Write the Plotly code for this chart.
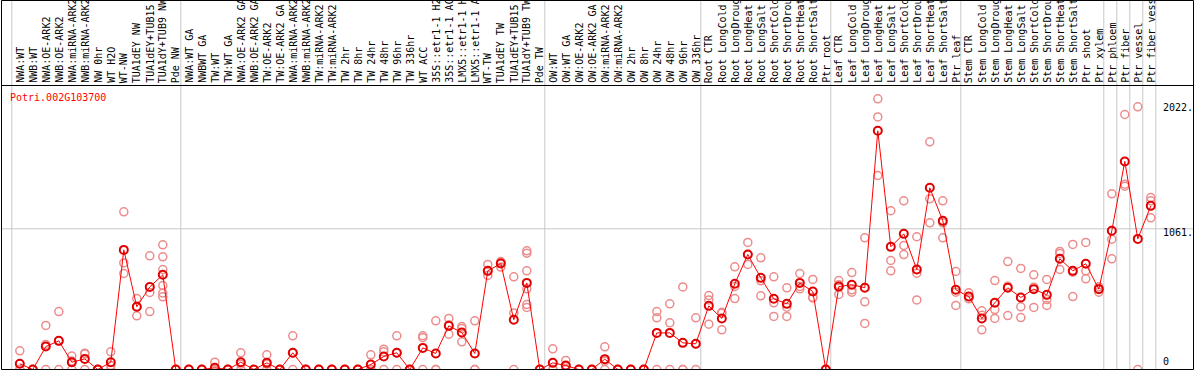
import plotly.graph_objects as go

title = "Potri.002G103700"

categories = [
    "NWA:WT", "NWB:WT", "NWA:OE-ARK2", "NWB:OE-ARK2", "NWA:miRNA-ARK2", "NWB:miRNA-ARK2",
    "NW 0hr", "WT H2O", "WT-NW", "TUA1dEY NW", "TUA1dEY+TUB15", "TUA1dY+TUB9 NW", "Pde NW",
    "NWA:WT GA", "NWBWT GA", "TW:WT", "TW:WT GA", "NWA:OE-ARK2 GA", "NWB:OE-ARK2 GA",
    "TW:OE-ARK2", "TW:OE-ARK2 GA", "NWA:miRNA-ARK2", "NWB:miRNA-ARK2", "TW:miRNA-ARK2",
    "TW:miRNA-ARK2", "TW 2hr", "TW 8hr", "TW 24hr", "TW 48hr", "TW 96hr", "TW 336hr",
    "WT ACC", "35S::etr1-1 H2", "35S::etr1-1 AC", "LMX5::etr1-1 H", "LMX5::etr1-1 A",
    "WT-TW", "TUA1dEY TW", "TUA1dEY+TUB15", "TUA1dY+TUB9 TW", "Pde TW",
    "OW:WT", "OW:WT GA", "OW:OE-ARK2", "OW:OE-ARK2 GA", "OW:miRNA-ARK2", "OW:miRNA-ARK2",
    "OW 2hr", "OW 8hr", "OW 24hr", "OW 48hr", "OW 96hr", "OW 336hr",
    "Root CTR", "Root LongCold", "Root LongDroug", "Root LongHeat", "Root LongSalt",
    "Root ShortCold", "Root ShortDrou", "Root ShortHeat", "Root ShortSalt", "Ptr root",
    "Leaf CTR", "Leaf LongCold", "Leaf LongDroug", "Leaf LongHeat", "Leaf LongSalt",
    "Leaf ShortCold", "Leaf ShortDrou", "Leaf ShortHeat", "Leaf ShortSalt", "Ptr leaf",
    "Stem CTR", "Stem LongCold", "Stem LongDroug", "Stem LongHeat", "Stem LongSalt",
    "Stem ShortCold", "Stem ShortDrou", "Stem ShortHeat", "Stem ShortSalt", "Ptr shoot",
    "Ptr xylem", "Ptr phloem", "Ptr fiber", "Ptr vessel", "Ptr fiber vess",
]

group_sizes = [13, 28, 12, 10, 10, 11, 1, 1, 1, 1]

means = [
    43, 0, 173, 216, 55, 80, 0, 55, 902, 473, 623, 714, 0,
    0, 0, 13, 0, 55, 0, 50, 0, 126, 0, 0, 0, 0, 0, 38, 98, 126, 0, 163, 121, 329, 279,
    121, 744, 799, 375, 653, 0,
    50, 30, 0, 0, 78, 0, 0, 0, 276, 276, 201, 194,
    480, 385, 646, 867, 691, 533, 495, 653, 588, 0,
    625, 639, 617, 1800, 925, 1023, 754, 1370, 1121, 601,
    550, 385, 503, 616, 543, 606, 563, 835, 744, 797, 606,
    1046, 1569, 985, 1234,
]

replicates = [
    [141, 0, 0], [0, 0, 0], [332, 189, 0], [437, 216, 0], [101, 64, 0], [123, 117, 0],
    [0, 0, 0], [133, 30, 0], [1189, 804, 724], [535, 473, 405], [857, 581, 437],
    [940, 850, 754, 633, 576, 548], [0, 0, 0],
    [0, 0, 0], [0, 0, 0], [55, 0, 0], [0, 0, 0], [126, 40, 0], [0, 0, 0], [111, 40, 0],
    [0, 0, 0], [254, 124, 0], [0, 0, 0], [0, 0, 0], [0, 0, 0], [0, 0, 0], [0, 0, 0],
    [111, 0, 0], [153, 133, 0], [254, 124, 0], [0, 0, 0], [254, 240, 0], [367, 0, 0],
    [385, 335, 266], [324, 309, 209], [367, 0, 0], [792, 744, 709], [814, 810, 772],
    [699, 427, 0], [895, 877, 744, 608, 490, 468], [0, 0, 0],
    [156, 0, 0], [68, 25, 0], [0, 0, 0], [0, 0, 0], [171, 63, 0], [0, 0, 0], [0, 0, 0],
    [0, 0, 0], [437, 390, 0], [495, 352, 0], [623, 0, 0], [390, 192, 0],
    [558, 525, 342], [431, 425, 299], [774, 626, 535], [958, 867, 792], [842, 669, 556],
    [699, 503, 400], [616, 470, 400], [724, 626, 608], [679, 545, 540], [0, 0, 0],
    [671, 640, 566], [731, 601, 583], [993, 510, 347], [2041, 1905, 1463],
    [1197, 822, 744], [1272, 935, 867], [1001, 726, 525], [1717, 1287, 1106],
    [1272, 1106, 993], [739, 583, 483],
    [578, 548, 533], [443, 410, 299], [671, 452, 385], [814, 628, 407], [762, 473, 392],
    [714, 621, 468], [679, 527, 483], [890, 875, 754], [943, 734, 550], [958, 744, 684],
    [624, 610, 583],
    [1325, 983, 835], [1923, 1397, 1382], [1981, 0], [1297, 1272, 1144],
]

y_tick_values = [2022, 1061, 0]
y_tick_labels = ["2022.", "1061.", "0"]

# ---------------- layout geometry ----------------
W, H = 1194, 370
FONT = "DejaVu Sans Mono"
x_idx = list(range(len(categories)))

# pixel mapping: category i at 19.8 + 13*i ; value 0 at y=369.5, 1061 at 228.8
x_range = [-19.8 / 13.0, (W - 19.8) / 13.0]
ppu = (369.5 - 228.8) / 1061.0
y_range = [-(H - 369.5) / ppu, 369.5 / ppu]


def px_x(p):
    return p / W


def px_y(p):
    return 1 - p / H


rep_x, rep_y = [], []
for i, vals in zip(x_idx, replicates):
    for v in vals:
        rep_x.append(i)
        rep_y.append(v)

fig = go.Figure()
fig.add_trace(go.Scatter(
    x=rep_x, y=rep_y, mode="markers", hoverinfo="skip",
    marker=dict(symbol="circle-open", size=8, color="rgb(236,140,140)",
                line=dict(width=1.5, color="rgb(236,140,140)")),
))
fig.add_trace(go.Scatter(
    x=x_idx, y=means, mode="lines+markers",
    line=dict(color="#ff0000", width=1),
    marker=dict(symbol="circle-open", size=8, color="#e00000",
                line=dict(width=2, color="#e00000")),
))

shapes = []
# group separators
b = -1
bounds = [b]
for s in group_sizes:
    b += s
    bounds.append(b)
for k in bounds:
    shapes.append(dict(type="line", xref="x", yref="paper", x0=k + 0.385, x1=k + 0.385,
                       y0=px_y(369.5), y1=1, line=dict(color="#c8c8c8", width=1), layer="below"))
# horizontal gridline at 1061
shapes.append(dict(type="line", xref="paper", yref="y", x0=px_x(1.5), x1=px_x(1193.5),
                   y0=1061, y1=1061, line=dict(color="#c8c8c8", width=1), layer="below"))
# frame
black = dict(color="black", width=1)
shapes.append(dict(type="rect", xref="paper", yref="paper", x0=px_x(1.5), x1=px_x(1193.5),
                   y0=px_y(369.5), y1=px_y(0.5), line=black))
shapes.append(dict(type="line", xref="paper", yref="paper", x0=px_x(1.5), x1=px_x(1193.5),
                   y0=px_y(85.5), y1=px_y(85.5), line=black))

annotations = []
for i, lab in zip(x_idx, categories):
    annotations.append(dict(x=i, xref="x", y=px_y(84), yref="paper", text=lab,
                            textangle=-90, xanchor="center", yanchor="bottom",
                            showarrow=False, borderpad=0,
                            font=dict(family=FONT, size=10, color="black")))
tick_centers = {2022: 107.5, 1061: 232.5, 0: 361.5}
for v, t in zip(y_tick_values, y_tick_labels):
    annotations.append(dict(x=px_x(1162), xref="paper", y=px_y(tick_centers[v]), yref="paper",
                            text=t, xanchor="left", yanchor="middle", showarrow=False,
                            borderpad=0, font=dict(family=FONT, size=10, color="black")))
annotations.append(dict(x=px_x(9), xref="paper", y=px_y(97), yref="paper", text=title,
                        xanchor="left", yanchor="middle", showarrow=False, borderpad=0,
                        font=dict(family=FONT, size=10, color="#ff0000")))

fig.update_layout(
    width=W, height=H, autosize=False,
    margin=dict(l=0, r=0, t=0, b=0, pad=0),
    paper_bgcolor="white", plot_bgcolor="white",
    showlegend=False,
    xaxis=dict(range=x_range, visible=False, fixedrange=True),
    yaxis=dict(range=y_range, visible=False, fixedrange=True),
    shapes=shapes, annotations=annotations,
)

fig.write_html("out.html", config={"displayModeBar": False},
               post_script="document.body.style.margin='0';")
